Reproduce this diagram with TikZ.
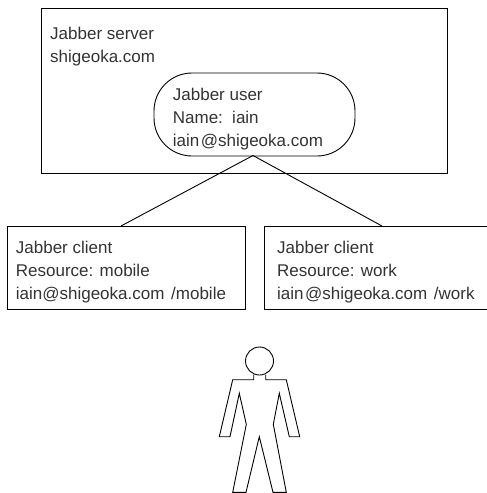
\documentclass[tikz,border=0pt]{standalone}
\usepackage{fontspec}
\setmainfont{Liberation Sans}
\tikzset{
  x=1pt,y=-1pt,
  line/.style={draw=black,line width=0.9pt},
  boxnode/.style={line,rectangle,anchor=north west,inner sep=0pt},
  txt/.style={anchor=north west,align=left,inner sep=0pt,text=black!80,font=\fontsize{17}{23}\selectfont},
}
\begin{document}
\begin{tikzpicture}
\useasboundingbox (0,0) rectangle (487,493);
\node[boxnode,minimum width=406pt,minimum height=165pt] (server) at (41,8) {};
\node[txt] (servertext) at (50,26.6) {Jabber server\\shigeoka.com};
\node[line,rectangle,rounded corners=38pt,minimum width=201pt,minimum height=83pt,inner sep=0pt] (user) at (254.5,114.5) {};
\node[txt] (usertext) at (172.7,87.6) {Jabber user\\Name:\kern3pt{} iain\\iain\kern1.5pt @shigeoka.com};
\node[boxnode,minimum width=238.5pt,minimum height=83pt] (clienta) at (6.5,226) {};
\node[txt] (clientatext) at (15.7,240.6) {Jabber client\\Resource: mobile\\iain@shigeoka.com\kern2pt{} /mobile};
\node[boxnode,minimum width=226pt,minimum height=83pt] (clientb) at (263.5,226) {};
\node[txt] (clientbtext) at (277,240.6) {Jabber client\\Resource: work\\iain\kern1.5pt @shigeoka.com\kern2pt{} /work};
\coordinate (ujoin) at (253,155.5);
\coordinate (atop) at (121,226);
\coordinate (btop) at (382,226);
\draw[line] (ujoin) -- (atop);
\draw[line] (ujoin) -- (btop);
\node[line,circle,minimum size=28pt,inner sep=0pt] (head) at (259.5,361) {};
\draw[line,line join=miter] (253.7,374.5) -- (253.7,379.7) -- (232.7,379.7) -- (219.3,436.7) -- (230,436.7) -- (239.3,393.3) -- (246.3,424.3) -- (232.7,492.3) -- (246,492.3) -- (259.3,436.7) -- (273,492.3) -- (286.3,492.3) -- (273.3,424.3) -- (279.3,393.3) -- (289.3,436.7) -- (299.7,436.7) -- (286.3,379.7) -- (265.7,379.7) -- (265.7,374.5);
\end{tikzpicture}
\end{document}
